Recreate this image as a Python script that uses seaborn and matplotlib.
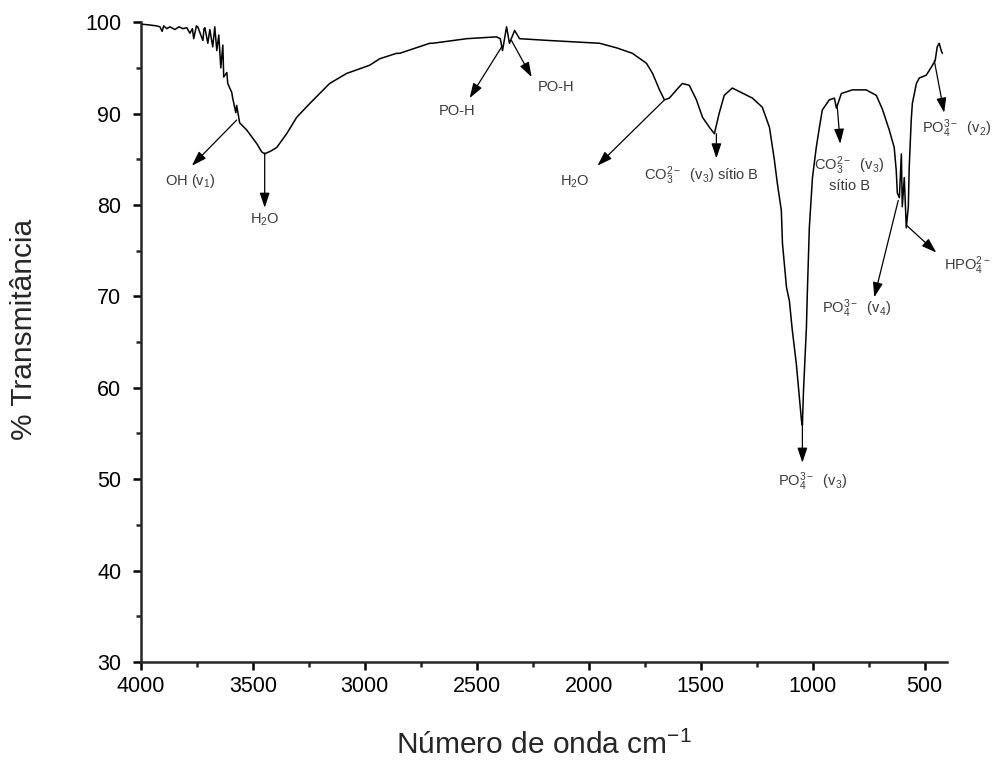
import matplotlib
matplotlib.use("Agg")
import matplotlib.pyplot as plt
import seaborn as sns
import pandas as pd

# ---- data ----
wavenumber = [4000, 3960, 3930, 3915, 3905, 3898, 3884, 3870, 3848, 3830, 3813, 3795,
              3781, 3770, 3764, 3752, 3746, 3723, 3718, 3714, 3701, 3692, 3679, 3670,
              3661, 3652, 3643, 3634, 3630, 3616, 3612, 3594, 3590, 3576, 3572, 3559,
              3527, 3482, 3460, 3447, 3420, 3393, 3349, 3304, 3246, 3157, 3081, 2978,
              2934, 2858, 2844, 2710, 2697, 2545, 2412, 2395, 2385, 2367, 2354, 2331,
              2309, 2175, 2028, 1952, 1876, 1805, 1742, 1715, 1684, 1662, 1640, 1608,
              1582, 1551, 1519, 1492, 1461, 1439, 1418, 1395, 1359, 1269, 1225, 1193,
              1171, 1158, 1140, 1135, 1117, 1104, 1091, 1073, 1059, 1050, 1046, 1041,
              1035, 1028, 1024, 1015, 1001, 984, 970, 957, 926, 903, 894, 872, 823,
              761, 716, 689, 658, 636, 627, 622, 613, 604, 600, 591, 582, 573, 569,
              560, 555, 537, 524, 493, 470, 453, 444, 435, 426, 421]
transmittance = [99.8, 99.7, 99.6, 99.5, 99.0, 99.6, 99.3, 99.5, 99.2, 99.5, 99.3, 99.4,
                 98.8, 99.3, 98.2, 99.6, 99.5, 98.0, 99.3, 99.4, 97.7, 99.2, 97.3, 99.5,
                 96.9, 98.6, 95.0, 97.5, 94.0, 94.5, 93.3, 92.3, 91.7, 90.1, 90.9, 89.0,
                 88.2, 86.7, 85.8, 85.6, 85.9, 86.3, 87.8, 89.6, 91.1, 93.3, 94.4, 95.3,
                 96.0, 96.6, 96.6, 97.7, 97.7, 98.2, 98.4, 98.2, 96.9, 99.5, 97.7, 99.1,
                 98.2, 98.0, 97.8, 97.7, 97.2, 96.6, 95.5, 94.4, 92.6, 91.5, 91.7, 92.6,
                 93.3, 93.1, 91.5, 89.6, 88.5, 87.8, 90.0, 92.0, 92.8, 91.7, 90.7, 88.5,
                 84.9, 82.4, 79.4, 75.8, 71.0, 69.5, 66.3, 62.6, 58.9, 56.4, 55.9, 59.7,
                 63.0, 66.6, 70.3, 77.5, 83.0, 86.3, 88.5, 90.4, 91.5, 91.7, 90.6, 92.2, 92.6,
                 92.6, 92.0, 90.5, 88.2, 86.3, 83.8, 81.3, 80.8, 85.6, 79.8, 83.0, 77.5, 79.8, 84.1,
                 89.3, 91.1, 93.3, 93.9, 94.2, 95.1, 95.8, 97.3, 97.7, 96.9, 96.6]

# annotations: label, arrow start (on curve), arrow tip, label position
ann_labels = [r"OH (v$\mathregular{_1}$)",
              r"H$\mathregular{_2}$O",
              "PO-H",
              "PO-H",
              r"H$\mathregular{_2}$O",
              r"CO$\mathregular{_3^{2-}}$  (v$\mathregular{_3}$) sítio B",
              r"CO$\mathregular{_3^{2-}}$  (v$\mathregular{_3}$)" + "\nsítio B",
              r"PO$\mathregular{_4^{3-}}$  (v$\mathregular{_4}$)",
              r"HPO$\mathregular{_4^{2-}}$",
              r"PO$\mathregular{_4^{3-}}$  (v$\mathregular{_2}$)",
              r"PO$\mathregular{_4^{3-}}$  (v$\mathregular{_3}$)"]
ann_from = [(3572, 89.3), (3447, 85.7), (2389, 97.3), (2345, 98.0), (1662, 91.5),
            (1430, 87.8), (890, 90.7), (618, 80.5), (582, 77.8), (457, 95.8), (1046, 55.9)]
ann_to = [(3772, 84.3), (3447, 79.7), (2532, 91.7), (2255, 94.0), (1961, 84.3),
          (1430, 85.1), (877, 86.7), (725, 69.9), (448, 74.8), (413, 90.1), (1046, 51.8)]
ann_text = [(3781, 82.6), (3447, 78.4), (2590, 90.3), (2144, 92.9), (2063, 82.5),
            (1495, 83.2), (836, 83.4), (805, 68.6), (310, 73.4), (359, 88.3), (1001, 49.7)]

df = pd.DataFrame({"wn": wavenumber, "T": transmittance})

sns.set_style("ticks")
plt.rcParams["font.family"] = ["Liberation Sans", "DejaVu Sans"]
plt.rcParams["mathtext.fontset"] = "custom"
plt.rcParams["mathtext.rm"] = "Liberation Sans"
plt.rcParams["mathtext.it"] = "Liberation Sans"
plt.rcParams["mathtext.default"] = "regular"

fig = plt.figure(figsize=(9.99, 7.67), dpi=100)
ax = fig.add_axes([0.141, 0.137, 0.807, 0.834])

sns.lineplot(data=df, x="wn", y="T", sort=False, estimator=None, color="black",
             linewidth=1.1, ax=ax)

for lab, p0, p1, pt in zip(ann_labels, ann_from, ann_to, ann_text):
    ax.annotate("", xy=p1, xytext=p0,
                arrowprops=dict(arrowstyle="-|>,head_length=0.9,head_width=0.3",
                                color="black", lw=0.9, shrinkA=0, shrinkB=0))
    ax.text(pt[0], pt[1], lab, ha="center", va="center", fontsize=10.5,
            color="#3a3a3a", clip_on=False, linespacing=1.2)

ax.set_xlim(4000, 400)
ax.set_ylim(30, 100)
ax.set_xticks([4000, 3500, 3000, 2500, 2000, 1500, 1000, 500])
ax.set_xticks([3750, 3250, 2750, 2250, 1750, 1250, 750], minor=True)
ax.set_yticks([30, 40, 50, 60, 70, 80, 90, 100])
ax.set_yticks([35, 45, 55, 65, 75, 85, 95], minor=True)

sns.despine(ax=ax)
for s in ["left", "bottom"]:
    ax.spines[s].set_linewidth(1.8)
ax.tick_params(which="major", direction="out", length=6, width=1.8,
               colors="black", labelsize=15.5)
ax.tick_params(axis="x", which="major", pad=4)
ax.tick_params(axis="y", which="major", pad=8)
ax.tick_params(which="minor", direction="out", length=3.5, width=1.8)

ax.set_xlabel(r"Número de onda cm$^{\mathregular{-1}}$", fontsize=21.5)
ax.set_ylabel("% Transmitância", fontsize=21.5)
ax.xaxis.set_label_coords(0.5, -0.108)
ax.yaxis.set_label_coords(-0.128, 0.52)

fig.savefig("out.png", dpi=100)
